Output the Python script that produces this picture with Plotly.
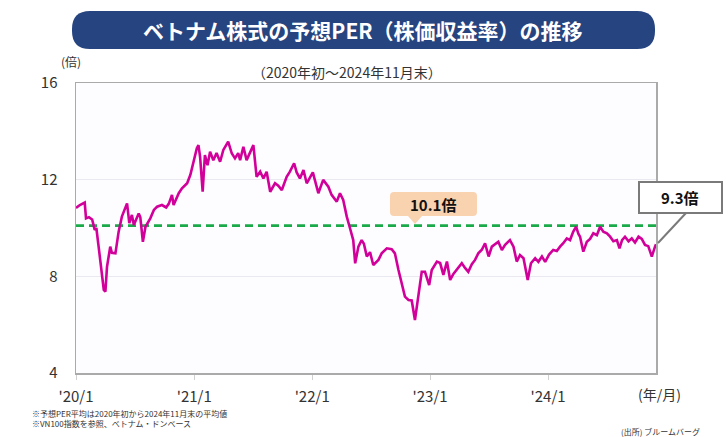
import plotly.graph_objects as go

# ---------------- data ----------------
dates = [
    "2020-01-01", "2020-01-13", "2020-01-28", "2020-02-01", "2020-02-10", "2020-02-20", "2020-02-28",
    "2020-03-04", "2020-03-11", "2020-03-19", "2020-03-27", "2020-04-01", "2020-04-06", "2020-04-16",
    "2020-04-21", "2020-05-02", "2020-05-12", "2020-05-22", "2020-06-07", "2020-06-14", "2020-06-22",
    "2020-06-28", "2020-07-13", "2020-07-18", "2020-07-26", "2020-08-03", "2020-08-18", "2020-08-29",
    "2020-09-08", "2020-09-23", "2020-10-06", "2020-10-14", "2020-10-24", "2020-10-29", "2020-11-14",
    "2020-11-24", "2020-12-10", "2020-12-20", "2020-12-29", "2021-01-09", "2021-01-14", "2021-01-19",
    "2021-01-27", "2021-02-03", "2021-02-11", "2021-02-19", "2021-03-01", "2021-03-11", "2021-03-22",
    "2021-04-01", "2021-04-16", "2021-04-27", "2021-05-07", "2021-05-17", "2021-05-23", "2021-06-02",
    "2021-06-12", "2021-06-23", "2021-07-03", "2021-07-13", "2021-07-24", "2021-08-03", "2021-08-13",
    "2021-08-24", "2021-09-08", "2021-09-18", "2021-09-29", "2021-10-14", "2021-10-24", "2021-11-06",
    "2021-11-14", "2021-11-24", "2021-12-05", "2021-12-15", "2021-12-25", "2022-01-03", "2022-01-20",
    "2022-02-04", "2022-02-20", "2022-03-02", "2022-03-18", "2022-03-28", "2022-04-07", "2022-04-18",
    "2022-04-28", "2022-05-08", "2022-05-14", "2022-05-24", "2022-06-03", "2022-06-10", "2022-06-19",
    "2022-06-29", "2022-07-09", "2022-07-25", "2022-08-04", "2022-08-20", "2022-09-04", "2022-09-14",
    "2022-09-25", "2022-10-05", "2022-10-15", "2022-10-26", "2022-11-05", "2022-11-15", "2022-11-26",
    "2022-12-06", "2022-12-16", "2022-12-29", "2023-01-06", "2023-01-22", "2023-02-01", "2023-02-11",
    "2023-02-22", "2023-03-04", "2023-03-14", "2023-03-24", "2023-04-09", "2023-04-19", "2023-04-29",
    "2023-05-10", "2023-05-20", "2023-05-30", "2023-06-10", "2023-06-20", "2023-07-01", "2023-07-11",
    "2023-07-21", "2023-07-31", "2023-08-11", "2023-08-21", "2023-09-05", "2023-09-16", "2023-09-26",
    "2023-10-06", "2023-10-17", "2023-10-22", "2023-10-30", "2023-11-09", "2023-11-22", "2023-12-02",
    "2023-12-13", "2023-12-23", "2024-01-04", "2024-01-17", "2024-01-28", "2024-02-07", "2024-02-17",
    "2024-02-28", "2024-03-09", "2024-03-19", "2024-03-28", "2024-04-04", "2024-04-09", "2024-04-19",
    "2024-04-30", "2024-05-10", "2024-05-20", "2024-05-31", "2024-06-10", "2024-06-20", "2024-07-01",
    "2024-07-11", "2024-07-21", "2024-08-01", "2024-08-09", "2024-08-17", "2024-08-26", "2024-09-06",
    "2024-09-16", "2024-09-26", "2024-10-07", "2024-10-17", "2024-10-27", "2024-11-06", "2024-11-17",
    "2024-11-27", "2024-11-30",
]
per_values = [
    10.83, 10.95, 11.05, 10.40, 10.45, 10.35, 9.92,
    10.00, 9.23, 8.40, 7.44, 7.37, 8.40, 9.23,
    8.97, 8.95, 9.85, 10.47, 11.02, 10.20, 10.54,
    10.12, 10.60, 10.45, 9.43, 10.05, 10.40, 10.75,
    10.88, 10.95, 10.85, 11.00, 11.37, 10.95, 11.44,
    11.64, 11.85, 12.20, 12.68, 13.30, 13.43, 12.95,
    11.50, 13.02, 12.60, 13.16, 12.80, 13.10, 12.74,
    13.23, 13.57, 13.09, 12.88, 13.10, 12.81, 13.36,
    12.81, 13.10, 13.43, 12.12, 12.33, 12.05, 12.33,
    11.50, 11.85, 11.75, 11.57, 12.12, 12.33, 12.68,
    12.30, 12.05, 12.40, 11.85, 12.10, 12.30, 11.44,
    11.99, 11.71, 11.37, 11.09, 11.44, 11.16, 10.47,
    9.99, 9.50, 8.54, 9.23, 9.50, 9.35, 8.82,
    9.00, 8.47, 8.68, 8.95, 9.16, 9.12, 8.95,
    8.26, 7.71, 7.16, 7.02, 7.00, 6.19, 7.16,
    8.19, 8.19, 7.64, 8.26, 8.61, 8.55, 8.06,
    8.61, 7.85, 8.10, 8.26, 8.54, 8.35, 8.19,
    8.50, 8.68, 8.95, 9.10, 9.37, 8.82, 9.23,
    9.35, 9.43, 9.09, 9.30, 9.50, 9.23, 8.61,
    8.88, 8.75, 8.40, 7.85, 8.54, 8.75, 8.60,
    8.82, 8.60, 8.90, 9.09, 9.05, 9.23, 9.37,
    9.57, 9.50, 9.85, 10.05, 9.75, 9.64, 9.02,
    9.43, 9.55, 9.78, 9.70, 10.05, 9.85, 9.78,
    9.64, 9.45, 9.50, 9.16, 9.50, 9.64, 9.45,
    9.57, 9.40, 9.64, 9.55, 9.30, 9.25, 8.82,
    9.23, 9.33,
]
average_per = 10.1
latest_per = 9.3
period = ["2020-01-01", "2024-11-30"]

x_tick_dates = ["2020-01-01", "2021-01-01", "2022-01-01", "2023-01-01", "2024-01-01"]
x_tick_labels = ["'20/1", "'21/1", "'22/1", "'23/1", "'24/1"]
y_ticks = [4, 8, 12, 16]

title_text = "ベトナム株式の予想PER（株価収益率）の推移"
subtitle_text = "（2020年初～2024年11月末）"
note_lines = ["※予想PER平均は2020年初から2024年11月末の平均値", "※VN100指数を参照、ベトナム・ドンベース"]
source_text = "(出所) ブルームバーグ"

# ---------------- layout helpers ----------------
W, H = 728, 437
L, R, T, B = 76, 656, 83, 373
PW, PH = R - L, B - T


def px(xp):
    return (xp - L) / PW


def py(yp):
    return (B - yp) / PH


def rounded_rect(x0, y0, x1, y1, r, pointer=None):
    rx, ry = r / PW, r / PH
    X0, X1 = px(x0), px(x1)
    Yt, Yb = py(y0), py(y1)
    p = f"M {X0+rx},{Yt} L {X1-rx},{Yt} Q {X1},{Yt} {X1},{Yt-ry} L {X1},{Yb+ry} Q {X1},{Yb} {X1-rx},{Yb} "
    if pointer:
        bl, br, tx, ty = pointer
        p += f"L {px(br)},{Yb} L {px(tx)},{py(ty)} L {px(bl)},{Yb} "
    p += f"L {X0+rx},{Yb} Q {X0},{Yb} {X0},{Yb+ry} L {X0},{Yt-ry} Q {X0},{Yt} {X0+rx},{Yt} Z"
    return p


FONT = "Noto Sans CJK JP, Noto Sans, sans-serif"

fig = go.Figure()
fig.add_trace(go.Scatter(
    x=period, y=[average_per, average_per], mode="lines",
    line=dict(color="#1BAA4A", width=2.6, dash="8px,5px"), hoverinfo="skip",
))
fig.add_trace(go.Scatter(
    x=dates, y=per_values, mode="lines",
    line=dict(color="#D1009A", width=2.6),
))

shapes = [
    dict(type="path", xref="paper", yref="paper", path=rounded_rect(72, 11, 655, 49, 18),
         fillcolor="#26447F", line=dict(width=0), layer="above"),
    dict(type="path", xref="paper", yref="paper",
         path=rounded_rect(390, 192, 477, 216, 4, pointer=(408, 422, 415, 224)),
         fillcolor="#F9D2B0", line=dict(width=0), layer="above"),
    dict(type="rect", xref="paper", yref="paper", x0=px(639), x1=px(722), y0=py(182), y1=py(213),
         fillcolor="white", line=dict(color="#7A7A7A", width=2), layer="above"),
    dict(type="line", xref="paper", yref="paper", x0=px(686), y0=py(213), x1=px(658), y1=py(243),
         line=dict(color="#7A7A7A", width=2), layer="above"),
]

annotations = [
    dict(text=f"<b>{title_text}</b>", x=px(363), y=py(30), xref="paper", yref="paper",
         showarrow=False, font=dict(size=21, color="white", family=FONT), xanchor="center", yanchor="middle"),
    dict(text=subtitle_text, x=px(347), y=py(72), xref="paper", yref="paper",
         showarrow=False, font=dict(size=14, color="#333333", family=FONT), xanchor="center", yanchor="middle"),
    dict(text="(倍)", x=px(71), y=py(61), xref="paper", yref="paper",
         showarrow=False, font=dict(size=12, color="#333333", family=FONT), xanchor="center", yanchor="middle"),
    dict(text="(年/月)", x=px(659), y=py(394), xref="paper", yref="paper",
         showarrow=False, font=dict(size=14, color="#333333", family=FONT), xanchor="center", yanchor="middle"),
    dict(text=f"<b>{average_per:.1f}倍</b>", x=px(433), y=py(204), xref="paper", yref="paper",
         showarrow=False, font=dict(size=15, color="#111111", family=FONT), xanchor="center", yanchor="middle"),
    dict(text=f"<b>{latest_per:.1f}倍</b>", x=px(680), y=py(197), xref="paper", yref="paper",
         showarrow=False, font=dict(size=15, color="#111111", family=FONT), xanchor="center", yanchor="middle"),
    dict(text=note_lines[0], x=px(30), y=py(413), xref="paper", yref="paper",
         showarrow=False, font=dict(size=8, color="#333333", family=FONT), xanchor="left", yanchor="middle"),
    dict(text=note_lines[1], x=px(30), y=py(423), xref="paper", yref="paper",
         showarrow=False, font=dict(size=8, color="#333333", family=FONT), xanchor="left", yanchor="middle"),
    dict(text=source_text, x=px(702), y=py(431), xref="paper", yref="paper",
         showarrow=False, font=dict(size=8, color="#333333", family=FONT), xanchor="right", yanchor="middle"),
]

fig.update_layout(
    width=W, height=H,
    margin=dict(l=L, r=W - R, t=T, b=H - B),
    paper_bgcolor="white", plot_bgcolor="#FDFCFF",
    showlegend=False,
    shapes=shapes, annotations=annotations,
    font=dict(family=FONT, color="#333333"),
    xaxis=dict(
        type="date", range=period,
        tickvals=x_tick_dates, ticktext=x_tick_labels,
        tickfont=dict(size=15, color="#333333", family=FONT),
        ticks="outside", ticklen=5, tickcolor="#D0D0D0", tickwidth=1,
        showgrid=False, zeroline=False,
        showline=True, mirror=True, linecolor="#AAAAAA", linewidth=1.5,
        ticklabelstandoff=4,
    ),
    yaxis=dict(
        range=[4, 16], tickvals=y_ticks,
        tickfont=dict(size=15, color="#333333", family=FONT),
        ticks="", showgrid=True, gridcolor="#E9E9EF", gridwidth=1, zeroline=False,
        showline=True, mirror=True, linecolor="#AAAAAA", linewidth=1.5,
        ticklabelstandoff=14,
    ),
)

fig.write_html(
    "out.html",
    config={"displayModeBar": False, "staticPlot": True},
    post_script="document.body.style.margin='0';document.body.style.overflow='hidden';",
)
